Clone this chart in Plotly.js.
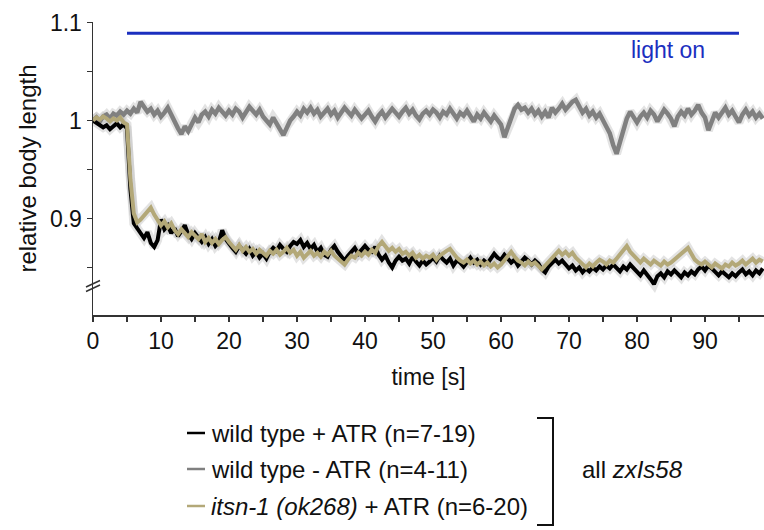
<!DOCTYPE html>
<html>
<head>
<meta charset="utf-8">
<script src="https://cdn.plot.ly/plotly-3.0.1.min.js"></script>
<style>html,body{margin:0;padding:0;background:#fff;}#chart{width:764px;height:530px;}</style>
</head>
<body>
<div id="chart"></div>
<script>
// time points [s]
var time = [0,0.5,1,1.5,2,2.5,3,3.5,4,4.5,5,5.5,6,6.5,7,7.5,8,8.5,9,9.5,
10,10.5,11,11.5,12,12.5,13,13.5,14,14.5,15,15.5,16,16.5,17,17.5,18,18.5,19,19.5,
20,20.5,21,21.5,22,22.5,23,23.5,24,24.5,25,25.5,26,26.5,27,27.5,28,28.5,29,29.5,
30,30.5,31,31.5,32,32.5,33,33.5,34,34.5,35,35.5,36,36.5,37,37.5,38,38.5,39,39.5,
40,40.5,41,41.5,42,42.5,43,43.5,44,44.5,45,45.5,46,46.5,47,47.5,48,48.5,49,49.5,
50,50.5,51,51.5,52,52.5,53,53.5,54,54.5,55,55.5,56,56.5,57,57.5,58,58.5,59,59.5,
60,60.5,61,61.5,62,62.5,63,63.5,64,64.5,65,65.5,66,66.5,67,67.5,68,68.5,69,69.5,
70,70.5,71,71.5,72,72.5,73,73.5,74,74.5,75,75.5,76,76.5,77,77.5,78,78.5,79,79.5,
80,80.5,81,81.5,82,82.5,83,83.5,84,84.5,85,85.5,86,86.5,87,87.5,88,88.5,89,89.5,
90,90.5,91,91.5,92,92.5,93,93.5,94,94.5,95,95.5,96,96.5,97,97.5,98,98.5];

// wild type - ATR (gray)
var wtMinusATR = [1.000,1.003,0.999,1.004,1.006,1.002,1.007,1.005,1.009,1.006,
1.010,1.007,1.012,1.008,1.019,1.013,1.009,1.012,1.006,1.010,
1.004,1.008,1.013,1.006,0.998,0.992,0.986,0.994,0.989,0.997,
1.003,0.998,1.006,1.009,1.004,1.011,1.007,1.013,1.008,1.005,
1.010,1.006,1.012,1.009,1.003,1.008,1.014,1.010,1.006,1.011,
1.004,1.000,0.996,1.003,0.998,0.991,0.985,0.994,1.000,1.004,
1.009,1.005,1.012,1.008,1.013,1.007,1.011,1.004,1.009,1.012,
1.006,1.010,1.003,1.008,1.013,1.009,1.005,1.011,1.007,1.002,
1.006,1.010,1.004,0.999,1.005,1.009,1.003,1.007,1.012,1.008,
1.004,1.009,1.013,1.007,1.011,1.005,1.001,1.007,1.010,1.006,
1.011,1.008,1.003,1.009,1.006,1.012,1.007,1.002,1.008,1.005,
1.010,1.004,0.999,1.006,1.002,1.008,1.004,0.999,1.005,1.001,
0.996,0.983,0.992,1.004,1.012,1.016,1.011,1.013,1.008,1.012,
1.006,1.010,1.004,1.009,1.003,1.013,1.008,1.012,1.017,1.011,
1.015,1.019,1.021,1.014,1.008,1.012,1.005,1.009,1.003,1.007,
1.001,0.994,0.987,0.975,0.966,0.978,0.990,1.002,1.009,1.004,
0.998,1.004,1.008,1.003,1.010,1.006,0.999,1.005,1.011,1.007,
1.002,0.994,1.004,1.009,1.005,1.012,1.006,1.010,1.016,1.008,
1.003,0.990,1.000,1.008,1.003,1.009,1.013,1.006,1.010,1.004,
0.998,1.006,1.011,1.005,1.009,1.003,1.007,1.002];

// wild type + ATR (black)
var wtPlusATR = [1.000,0.998,0.996,0.993,0.995,0.991,0.994,0.997,0.993,0.996,
0.992,0.930,0.895,0.890,0.884,0.880,0.886,0.875,0.871,0.878,
0.899,0.889,0.893,0.885,0.890,0.882,0.887,0.893,0.884,0.879,
0.885,0.880,0.876,0.881,0.874,0.879,0.872,0.876,0.888,0.879,
0.874,0.870,0.866,0.872,0.868,0.864,0.869,0.862,0.866,0.860,
0.864,0.859,0.866,0.870,0.867,0.873,0.869,0.866,0.872,0.876,
0.874,0.878,0.871,0.875,0.869,0.873,0.866,0.870,0.863,0.861,
0.868,0.872,0.866,0.861,0.857,0.862,0.866,0.870,0.864,0.868,
0.872,0.868,0.866,0.871,0.863,0.858,0.862,0.855,0.850,0.857,
0.861,0.857,0.859,0.854,0.861,0.856,0.852,0.857,0.853,0.856,
0.860,0.856,0.862,0.858,0.855,0.859,0.852,0.857,0.855,0.851,
0.856,0.860,0.855,0.858,0.853,0.857,0.854,0.859,0.864,0.860,
0.858,0.863,0.859,0.855,0.858,0.852,0.856,0.860,0.857,0.853,
0.857,0.854,0.848,0.845,0.851,0.855,0.858,0.854,0.857,0.853,
0.849,0.852,0.847,0.850,0.845,0.849,0.846,0.850,0.847,0.851,
0.848,0.852,0.849,0.853,0.850,0.846,0.851,0.848,0.853,0.849,
0.845,0.842,0.847,0.843,0.838,0.833,0.841,0.844,0.840,0.846,
0.843,0.847,0.844,0.840,0.845,0.842,0.846,0.843,0.848,0.851,
0.847,0.852,0.849,0.845,0.842,0.846,0.843,0.840,0.844,0.841,
0.845,0.848,0.843,0.846,0.842,0.847,0.844,0.849];

// itsn-1 (ok268) + ATR (tan)
var itsnPlusATR = [1.000,1.003,1.001,1.004,1.002,0.999,1.002,1.000,1.003,0.998,
0.996,0.940,0.905,0.896,0.899,0.903,0.908,0.911,0.904,0.898,
0.893,0.897,0.891,0.895,0.888,0.884,0.889,0.885,0.881,0.886,
0.882,0.879,0.884,0.876,0.880,0.875,0.879,0.874,0.878,0.881,
0.876,0.872,0.868,0.873,0.867,0.871,0.866,0.869,0.864,0.868,
0.865,0.862,0.867,0.864,0.868,0.863,0.866,0.870,0.865,0.868,
0.862,0.866,0.860,0.864,0.867,0.862,0.865,0.861,0.866,0.863,
0.867,0.862,0.859,0.855,0.853,0.858,0.862,0.860,0.865,0.862,
0.866,0.863,0.868,0.865,0.872,0.876,0.871,0.867,0.870,0.866,
0.869,0.864,0.866,0.862,0.865,0.860,0.863,0.859,0.862,0.860,
0.863,0.858,0.862,0.865,0.867,0.869,0.864,0.860,0.857,0.855,
0.858,0.854,0.857,0.853,0.856,0.852,0.855,0.851,0.854,0.850,
0.853,0.857,0.862,0.866,0.861,0.857,0.855,0.852,0.856,0.853,
0.855,0.851,0.848,0.852,0.856,0.860,0.864,0.867,0.863,0.866,
0.862,0.865,0.860,0.857,0.853,0.850,0.854,0.851,0.855,0.858,
0.856,0.853,0.857,0.855,0.859,0.863,0.868,0.872,0.866,0.862,
0.858,0.855,0.859,0.856,0.853,0.857,0.854,0.852,0.856,0.853,
0.855,0.858,0.861,0.864,0.867,0.870,0.864,0.858,0.855,0.853,
0.856,0.853,0.850,0.854,0.852,0.849,0.853,0.851,0.855,0.852,
0.854,0.857,0.853,0.856,0.859,0.855,0.858,0.856];

var lightOnTime = [5, 95];
var lightOnLevel = [1.089, 1.089];

var xTickVals = [0,5,10,15,20,25,30,35,40,45,50,55,60,65,70,75,80,85,90,95];
var xTickText = ["0","","10","","20","","30","","40","","50","","60","","70","","80","","90",""];
var yTickVals = [0.85,0.9,0.95,1,1.05,1.1];
var yTickText = ["","0.9","","1","","1.1"];

var legendNames = ["wild type + ATR (n=7-19)", "wild type - ATR (n=4-11)", "<i>itsn-1 (ok268)</i> + ATR (n=6-20)"];
var legendColors = ["#000000", "#808080", "#b3a878"];

var FONT = "Liberation Sans, Arial, Helvetica, sans-serif";
var blue = "#1b2fbf";

function halo(y) {
  return {x: time, y: y, type: "scatter", mode: "lines", hoverinfo: "skip",
    line: {color: "rgba(185,185,185,0.4)", width: 9}, showlegend: false};
}
var traces = [
  halo(wtMinusATR), halo(wtPlusATR), halo(itsnPlusATR),
  {x: time, y: wtMinusATR, type: "scatter", mode: "lines", line: {color: legendColors[1], width: 4.5}, showlegend: false},
  {x: time, y: wtPlusATR, type: "scatter", mode: "lines", line: {color: legendColors[0], width: 4}, showlegend: false},
  {x: time, y: itsnPlusATR, type: "scatter", mode: "lines", line: {color: legendColors[2], width: 4}, showlegend: false},
  {x: lightOnTime, y: lightOnLevel, type: "scatter", mode: "lines", line: {color: blue, width: 3}, showlegend: false}
];

// geometry helpers in pixel -> paper
var L = 93, T = 22, W = 671, H = 293;
function px(x) { return (x - L) / W; }
function py(y) { return (T + H - y) / H; }

var legendY = [433, 469, 506];
var shapes = [];
var annotations = [];
for (var i = 0; i < legendNames.length; i++) {
  shapes.push({type: "line", xref: "paper", yref: "paper", x0: px(187), x1: px(205), y0: py(legendY[i]), y1: py(legendY[i]),
    line: {color: legendColors[i], width: 2.5}});
  annotations.push({xref: "paper", yref: "paper", x: px(209), y: py(legendY[i]), xanchor: "left", yanchor: "middle",
    text: legendNames[i], showarrow: false, font: {family: FONT, size: 24, color: "#111"}});
}
// bracket
shapes.push({type: "path", xref: "paper", yref: "paper",
  path: "M " + px(537) + " " + py(418) + " L " + px(553) + " " + py(418) + " L " + px(553) + " " + py(525) + " L " + px(537) + " " + py(525),
  line: {color: "#111", width: 2}});
annotations.push({xref: "paper", yref: "paper", x: px(580), y: py(469), xanchor: "left", yanchor: "middle",
  text: "all <i>zxIs58</i>", showarrow: false, font: {family: FONT, size: 24, color: "#111"}});
// axis break marks
shapes.push({type: "line", xref: "paper", yref: "paper", x0: px(86), y0: py(287), x1: px(100), y1: py(280.5), line: {color: "#333", width: 1.5}});
shapes.push({type: "line", xref: "paper", yref: "paper", x0: px(86), y0: py(291.5), x1: px(100), y1: py(285), line: {color: "#333", width: 1.5}});
// light on label
annotations.push({x: 84.5, y: 1.072, xref: "x", yref: "y", text: "light on", showarrow: false,
  font: {family: FONT, size: 23, color: blue}, xanchor: "center", yanchor: "middle"});

var layout = {
  width: 764, height: 530,
  margin: {l: L, r: 0, t: T, b: 530 - T - H, pad: 0},
  paper_bgcolor: "#fff", plot_bgcolor: "#fff",
  font: {family: FONT, size: 23, color: "#111"},
  showlegend: false,
  xaxis: {
    range: [0, 98.68], tickmode: "array", tickvals: xTickVals, ticktext: xTickText,
    showline: true, linecolor: "#333", linewidth: 1.5, ticks: "outside", ticklen: 5, tickwidth: 1.5, tickcolor: "#333",
    showgrid: false, zeroline: false, tickfont: {family: FONT, size: 23, color: "#111"},
    title: {text: "time [s]", font: {family: FONT, size: 23, color: "#111"}, standoff: 16}
  },
  yaxis: {
    range: [0.8015, 1.1005], tickmode: "array", tickvals: yTickVals, ticktext: yTickText,
    showline: true, linecolor: "#333", linewidth: 1.5, ticks: "outside", ticklen: 5, tickwidth: 1.5, tickcolor: "#333",
    showgrid: false, zeroline: false, tickfont: {family: FONT, size: 23, color: "#111"},
    title: {text: "relative body length", font: {family: FONT, size: 24, color: "#111"}, standoff: 6}
  },
  shapes: shapes,
  annotations: annotations
};

Plotly.newPlot("chart", traces, layout, {staticPlot: true, displayModeBar: false});
</script>
</body>
</html>
